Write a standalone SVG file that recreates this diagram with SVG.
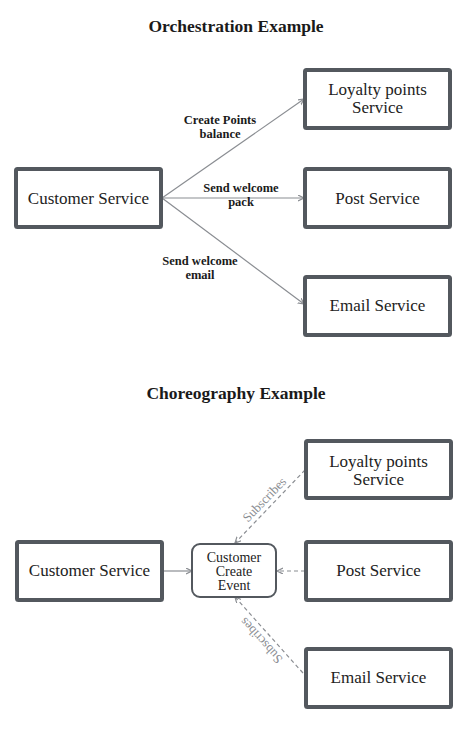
<svg xmlns="http://www.w3.org/2000/svg" width="467" height="745" viewBox="0 0 467 745">
<style>
  .title { font-family: "Liberation Serif", "DejaVu Serif", serif; font-weight: bold; font-size: 17.5px; fill: #1a1a1a; text-anchor: middle; }
  .box { fill: #ffffff; stroke: #53585e; stroke-width: 4; }
  .evt { fill: #ffffff; stroke: #53585e; stroke-width: 2; }
  .ntext { font-family: "Liberation Serif", "DejaVu Serif", serif; font-size: 17px; fill: #222222; text-anchor: middle; }
  .etext { font-family: "Liberation Serif", "DejaVu Serif", serif; font-size: 14px; fill: #222222; text-anchor: middle; }
  .lbl { font-family: "Liberation Serif", "DejaVu Serif", serif; font-weight: bold; font-size: 12.5px; fill: #1a1a1a; text-anchor: middle; }
  .sub { font-family: "Liberation Serif", "DejaVu Serif", serif; font-size: 13px; fill: #8a8d92; text-anchor: middle; }
  .line { fill: none; stroke: #8a8d92; stroke-width: 1.2; }
  .dash { fill: none; stroke: #8a8d92; stroke-width: 1.2; stroke-dasharray: 4 3; }
</style>
<defs>
  <marker id="arr" markerWidth="8" markerHeight="8" refX="6" refY="3" orient="auto" markerUnits="userSpaceOnUse">
    <path d="M0,0 L6,3 L0,6" fill="none" stroke="#8a8d92" stroke-width="1.2"/>
  </marker>
</defs>
<rect width="467" height="745" fill="#ffffff"/>

<text class="title" x="236" y="32">Orchestration Example</text>
<text class="title" x="236" y="399">Choreography Example</text>

<g id="connectors">
  <line class="line" x1="162" y1="198" x2="304" y2="99" marker-end="url(#arr)"/>
  <line class="line" x1="162" y1="198" x2="304" y2="198" marker-end="url(#arr)"/>
  <line class="line" x1="162" y1="198" x2="304" y2="304" marker-end="url(#arr)"/>
  <text class="lbl" x="220" y="124">Create Points</text>
  <text class="lbl" x="220" y="138">balance</text>
  <text class="lbl" x="241" y="192">Send welcome</text>
  <text class="lbl" x="241" y="206">pack</text>
  <text class="lbl" x="200" y="265">Send welcome</text>
  <text class="lbl" x="200" y="279">email</text>

  <line class="line" x1="163" y1="571" x2="192" y2="571" marker-end="url(#arr)"/>
  <line class="dash" x1="305" y1="571" x2="277" y2="571" marker-end="url(#arr)"/>
  <line class="dash" x1="305" y1="470" x2="235" y2="543" marker-end="url(#arr)"/>
  <line class="dash" x1="303" y1="673" x2="235" y2="597" marker-end="url(#arr)"/>
  <text class="sub" transform="translate(267.5,502.5) rotate(-46)">Subscribes</text>
  <text class="sub" transform="translate(264.3,637.7) rotate(-132)">Subscribes</text>
</g>

<g id="orch-customer">
  <rect class="box" x="16" y="169" width="145" height="58" rx="1.5"/>
  <text class="ntext" x="88.5" y="204">Customer Service</text>
</g>
<g id="orch-loyalty">
  <rect class="box" x="305" y="70" width="145" height="58" rx="1.5"/>
  <text class="ntext" x="377.5" y="95">Loyalty points</text>
  <text class="ntext" x="377.5" y="113">Service</text>
</g>
<g id="orch-post">
  <rect class="box" x="305" y="169" width="145" height="58" rx="1.5"/>
  <text class="ntext" x="377.5" y="204">Post Service</text>
</g>
<g id="orch-email">
  <rect class="box" x="305" y="277" width="145" height="58" rx="1.5"/>
  <text class="ntext" x="377.5" y="311">Email Service</text>
</g>

<g id="chor-customer">
  <rect class="box" x="17" y="542" width="145" height="58" rx="1.5"/>
  <text class="ntext" x="89.5" y="576">Customer Service</text>
</g>
<g id="chor-event">
  <rect class="evt" x="192" y="544" width="84" height="53" rx="8"/>
  <text class="etext" x="234" y="562">Customer</text>
  <text class="etext" x="234" y="576">Create</text>
  <text class="etext" x="234" y="590">Event</text>
</g>
<g id="chor-loyalty">
  <rect class="box" x="306" y="441" width="145" height="57" rx="1.5"/>
  <text class="ntext" x="378.5" y="467">Loyalty points</text>
  <text class="ntext" x="378.5" y="485">Service</text>
</g>
<g id="chor-post">
  <rect class="box" x="306" y="542" width="145" height="58" rx="1.5"/>
  <text class="ntext" x="378.5" y="576">Post Service</text>
</g>
<g id="chor-email">
  <rect class="box" x="306" y="649" width="145" height="58" rx="1.5"/>
  <text class="ntext" x="378.5" y="683">Email Service</text>
</g>
</svg>
